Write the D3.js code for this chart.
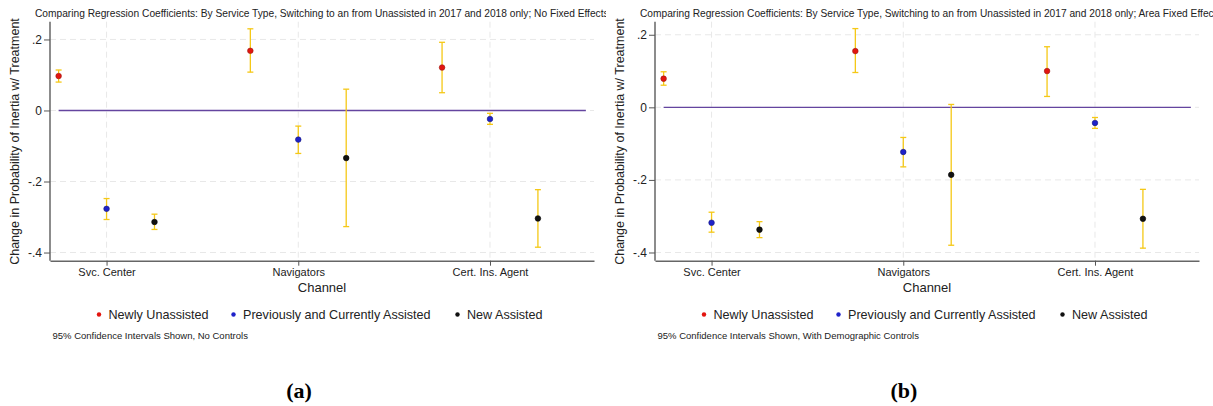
<!DOCTYPE html>
<html>
<head>
<meta charset="utf-8">
<script src="https://cdn.jsdelivr.net/npm/d3@7"></script>
<style>
  body { margin: 0; background: #fff; }
  svg { display: block; font-family: "Liberation Sans", Arial, sans-serif; }
</style>
</head>
<body>
<svg width="1213" height="406"></svg>
<script>
// channels along the x axis, series within each channel
var channels = ['Svc. Center', 'Navigators', 'Cert. Ins. Agent'];
var groups = ['Newly Unassisted', 'Previously and Currently Assisted', 'New Assisted'];
var yTicks = [0.2, 0, -0.2, -0.4];
var yTickLabels = ['.2', '0', '-.2', '-.4'];

// panel (a): No Fixed Effects, rows = channel, cols = group
var estA = [[0.097, -0.277, -0.314], [0.168, -0.082, -0.134], [0.121, -0.024, -0.304]];
var loA  = [[0.080, -0.307, -0.335], [0.108, -0.121, -0.327], [0.050, -0.039, -0.385]];
var hiA  = [[0.114, -0.248, -0.292], [0.230, -0.044, 0.060], [0.192, -0.008, -0.223]];

// panel (b): Area Fixed Effects
var estB = [[0.079, -0.318, -0.337], [0.155, -0.123, -0.186], [0.100, -0.043, -0.307]];
var loB  = [[0.061, -0.344, -0.359], [0.096, -0.164, -0.380], [0.030, -0.058, -0.388]];
var hiB  = [[0.098, -0.289, -0.315], [0.217, -0.083, 0.008], [0.167, -0.028, -0.226]];

var colors = ['#e3150f', '#1f22c9', '#111111'];
var strokes = ['#9a1a10', '#14157a', '#000000'];

var svg = d3.select('svg');

// title size so the panel (a) title runs to the panel edge like the original
var probe = svg.append('text').attr('font-size', 10)
    .text('Comparing Regression Coefficients: By Service Type, Switching to an from Unassisted in 2017 and 2018 only; No Fixed Effects');
var titleSize = 10 * 574 / probe.node().getComputedTextLength();
probe.remove();

function drawPanel(opt) {
    var g = svg.append('g').attr('transform', 'translate(' + opt.dx + ',0)');
    var clipId = 'clip' + opt.dx;
    g.append('clipPath').attr('id', clipId)
        .append('rect').attr('x', 0).attr('y', 0).attr('width', opt.clipW).attr('height', 406);
    g = g.append('g').attr('clip-path', 'url(#' + clipId + ')');

    var top = 21.7, bottom = 260.7;
    var xScale = d3.scaleLinear().domain([-0.18, 11.17]).range([50, 594]);
    var yScale = d3.scaleLinear().domain(opt.yDomain).range([bottom, top]);

    // flatten
    var pts = [];
    channels.forEach(function(c, ci) {
        groups.forEach(function(gr, gi) {
            pts.push({slot: ci * 4 + gi, g: gi, est: opt.est[ci][gi], lo: opt.lo[ci][gi], hi: opt.hi[ci][gi]});
        });
    });

    /**
     * Grid
     */
    g.selectAll('.hgrid').data(yTicks).enter().append('line')
        .attr('x1', xScale.range()[0]).attr('x2', xScale.range()[1])
        .attr('y1', function(d) { return yScale(d); })
        .attr('y2', function(d) { return yScale(d); })
        .attr('stroke', '#e8e8e8').attr('stroke-width', 1)
        .attr('stroke-dasharray', '6,4');
    g.selectAll('.vgrid').data(channels).enter().append('line')
        .attr('x1', function(d, i) { return xScale(i * 4 + 1); })
        .attr('x2', function(d, i) { return xScale(i * 4 + 1); })
        .attr('y1', top).attr('y2', bottom)
        .attr('stroke', '#e8e8e8').attr('stroke-width', 1)
        .attr('stroke-dasharray', '6,4');

    // zero line
    g.append('line')
        .attr('x1', xScale(0)).attr('x2', xScale(11))
        .attr('y1', yScale(0)).attr('y2', yScale(0))
        .attr('stroke', '#64459f').attr('stroke-width', 1.4);

    /**
     * Error bars
     */
    var bars = g.selectAll('.bar').data(pts).enter().append('g');
    bars.append('line')
        .attr('x1', function(d) { return xScale(d.slot); })
        .attr('x2', function(d) { return xScale(d.slot); })
        .attr('y1', function(d) { return yScale(d.lo); })
        .attr('y2', function(d) { return yScale(d.hi); })
        .attr('stroke', '#f5c816').attr('stroke-width', 1.3);
    ['lo', 'hi'].forEach(function(k) {
        bars.append('line')
            .attr('x1', function(d) { return xScale(d.slot) - 3; })
            .attr('x2', function(d) { return xScale(d.slot) + 3; })
            .attr('y1', function(d) { return yScale(d[k]); })
            .attr('y2', function(d) { return yScale(d[k]); })
            .attr('stroke', '#f5c816').attr('stroke-width', 1.3);
    });
    g.selectAll('.pt').data(pts).enter().append('circle')
        .attr('cx', function(d) { return xScale(d.slot); })
        .attr('cy', function(d) { return yScale(d.est); })
        .attr('r', 2.8)
        .attr('fill', function(d) { return colors[d.g]; })
        .attr('stroke', function(d) { return strokes[d.g]; })
        .attr('stroke-width', 0.6);

    /**
     * Axes
     */
    var yAxis = d3.axisLeft(yScale).tickValues(yTicks)
        .tickFormat(function(d, i) { return yTickLabels[i]; })
        .tickSize(6).tickPadding(2).tickSizeOuter(0);
    var ya = g.append('g').attr('transform', 'translate(50,0)').call(yAxis);
    ya.select('.domain').attr('stroke', '#666').attr('stroke-width', 1.5)
        .attr('d', 'M0,' + top + 'V' + bottom);
    ya.selectAll('.tick line').attr('stroke', '#555');
    ya.selectAll('.tick text').attr('font-size', 12).attr('fill', '#222')
        .attr('font-family', '"Liberation Sans", Arial, sans-serif');

    var xAxis = d3.axisBottom(xScale).tickValues([1, 5, 9])
        .tickFormat(function(d) { return channels[(d - 1) / 4]; })
        .tickSize(5).tickPadding(3).tickSizeOuter(0);
    var xa = g.append('g').attr('transform', 'translate(0,' + bottom + ')').call(xAxis);
    xa.select('.domain').attr('stroke', '#666').attr('stroke-width', 1.5);
    xa.selectAll('.tick line').attr('stroke', '#555');
    xa.selectAll('.tick text').attr('font-size', 11).attr('fill', '#222')
        .attr('font-family', '"Liberation Sans", Arial, sans-serif');

    /**
     * Labels
     */
    g.append('text').text(opt.title)
        .attr('x', 35).attr('y', 16.5)
        .attr('font-size', titleSize).attr('fill', '#222');

    g.append('text').text('Change in Probability of Inertia w/ Treatment')
        .attr('transform', 'translate(19,141.5) rotate(-90)')
        .attr('text-anchor', 'middle')
        .attr('font-size', 12.5).attr('fill', '#222');

    g.append('text').text('Channel')
        .attr('x', 322).attr('y', 292)
        .attr('text-anchor', 'middle')
        .attr('font-size', 13).attr('fill', '#222');

    // legend
    var legX = [99, 233.5, 457.5];
    groups.forEach(function(name, i) {
        g.append('circle').attr('cx', legX[i]).attr('cy', 314.5).attr('r', 2.2)
            .attr('fill', colors[i]);
        g.append('text').text(name)
            .attr('x', legX[i] + 9.5).attr('y', 319)
            .attr('font-size', 12.6).attr('fill', '#222');
    });

    g.append('text').text(opt.note)
        .attr('x', 52.5).attr('y', 338.5)
        .attr('font-size', 9.5).attr('fill', '#222');

    g.append('text').text(opt.tag)
        .attr('x', 299).attr('y', 398)
        .attr('text-anchor', 'middle')
        .attr('font-family', '"Liberation Serif", "Times New Roman", serif')
        .attr('font-weight', 'bold').attr('font-size', 22).attr('fill', '#000');
}

drawPanel({
    tag: '(a)', dx: 0, clipW: 606,
    yDomain: [-0.423, 0.250],
    est: estA, lo: loA, hi: hiA,
    title: 'Comparing Regression Coefficients: By Service Type, Switching to an from Unassisted in 2017 and 2018 only; No Fixed Effects',
    note: '95% Confidence Intervals Shown, No Controls'
});
drawPanel({
    tag: '(b)', dx: 605, clipW: 608,
    yDomain: [-0.4226, 0.236],
    est: estB, lo: loB, hi: hiB,
    title: 'Comparing Regression Coefficients: By Service Type, Switching to an from Unassisted in 2017 and 2018 only; Area Fixed Effects',
    note: '95% Confidence Intervals Shown, With Demographic Controls'
});
</script>
</body>
</html>
